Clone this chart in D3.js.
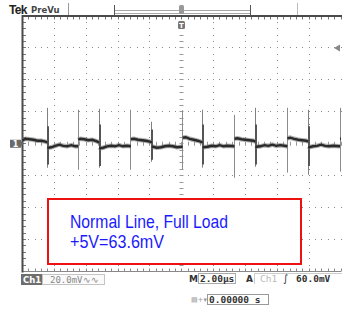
<!DOCTYPE html>
<html>
<head>
<meta charset="utf-8">
<script src="https://cdn.jsdelivr.net/npm/d3@7"></script>
<style>
  body { margin: 0; background: #fff; }
  svg { display: block; }
</style>
</head>
<body>
<svg id="scope" width="342" height="310"></svg>
<script>
// screen: 2.00 us/div x 10 div, 20.0 mV/div x 8 div
const timeDomain = [0, 20]
const voltDomain = [-80, 80]

// trace, [time us, mV], split where the switch edges jump
const trace = [
  [[0, 2.2], [0.19, 3.1], [0.44, 2.8], [0.69, 2.5], [0.94, 1.9], [1.19, 1.9], [1.44, 1.3], [1.56, 0.9]],
  [[1.56, -2.2], [1.63, -2.5], [1.81, -2.2], [2.06, -1.3], [2.31, -0.6], [2.56, -1.3], [2.81, -1.6], [3.06, -0.9], [3.31, -1.6], [3.5, -1.6]],
  [[3.5, 2.5], [3.63, 3.1], [3.88, 2.8], [4.13, 2.2], [4.38, 2.5], [4.63, 1.6], [4.81, 0.9]],
  [[4.81, -2.5], [4.88, -2.8], [5.06, -2.5], [5.31, -1.6], [5.56, -1.3], [5.81, -1.6], [6.06, -0.9], [6.31, -1.6], [6.56, -1.3], [6.81, -1.6]],
  [[6.81, 2.8], [7.0, 3.1], [7.25, 2.5], [7.5, 2.2], [7.75, 1.9], [8.0, 1.3], [8.13, 0.9]],
  [[8.13, -1.6], [8.19, -1.9], [8.44, -2.5], [8.69, -2.2], [8.94, -1.6], [9.19, -1.3], [9.44, -1.6], [9.69, -2.2], [10.06, -1.9]],
  [[10.06, 3.8], [10.25, 4.1], [10.5, 3.1], [10.75, 2.5], [11.0, 1.9], [11.31, 0.9]],
  [[11.31, -1.9], [11.38, -2.2], [11.63, -1.9], [11.88, -1.3], [12.13, -1.6], [12.38, -0.9], [12.63, -1.6], [12.88, -1.3], [13.31, -1.6]],
  [[13.31, 3.1], [13.5, 3.4], [13.75, 2.8], [14.0, 2.5], [14.25, 2.2], [14.5, 1.9], [14.63, 1.3]],
  [[14.63, -1.6], [14.69, -1.9], [14.94, -1.6], [15.19, -0.9], [15.44, -1.3], [15.69, -0.6], [15.94, -1.3], [16.19, -0.9], [16.63, -1.6]],
  [[16.63, 3.4], [16.81, 3.8], [17.06, 3.1], [17.31, 2.5], [17.56, 2.2], [17.81, 1.9], [17.94, 1.3]],
  [[17.94, -1.9], [18.0, -2.2], [18.25, -1.6], [18.5, -1.3], [18.75, -0.6], [19.0, -1.3], [19.25, -1.6], [19.5, -1.3], [19.88, -1.6], [19.94, -1.6]],
  [[19.94, 3.1], [20, 3.1]]
]

// turn-off spikes (with ringing)
const fallTimes = [1.56, 4.81, 8.13, 11.31, 14.63, 17.94]
const fallTop = [22.5, 21.9, 13.8, 21.3, 22.5, 21.3]
const fallBottom = [-15, -15, -11.3, -15, -14.4, -19.4]
const fallCoreTop = [11, 12, 9, 12, 12, 11]
const fallCoreBottom = [-13, -14, -10, -13, -13, -14]

// turn-on edges
const riseTimes = [3.5, 6.81, 10.06, 13.31, 16.63, 19.94]
const riseTop = [21.3, 21.3, 21, 18.1, 22.5, 22.5]
const riseBottom = [-16.3, -16.3, -16, -21.3, -18.1, -17.5]

const triggerTime = 10
const triggerLevel = 60

const chLabel = 'Ch1'
const voltsLabel = '20.0mV'
const timeLabel = '2.00\u00b5s'
const trigLabel = '60.0mV'
const posLabel = '0.00000 s'
const noteLines = ['Normal Line, Full Load', '+5V=63.6mV']

const svg = d3.select('#scope')
const x = d3.scaleLinear().domain(timeDomain).range([22.5, 341])
const y = d3.scaleLinear().domain(voltDomain).range([271.5, 16])
const px = v => Math.floor(x(v)) + 0.5

const xMajor = d3.range(0, 20.001, 2)
const yMajor = d3.range(-80, 80.001, 20)
const xMinor = d3.range(0, 20.001, 0.4)
const yMinor = d3.range(-80, 80.001, 4)

// ---- graticule
const grid = svg.append('g')
const vDots = d3.cross(xMajor.filter(d => d > 0 && d < 20), yMinor)
const hDots = d3.cross(xMinor, yMajor.filter(d => d > -80 && d < 80))
grid.selectAll('rect.dot')
  .data(vDots.concat(hDots))
  .enter().append('rect')
  .attr('x', d => Math.floor(x(d[0])))
  .attr('y', d => Math.floor(y(d[1])))
  .attr('width', 1).attr('height', 1)
  .attr('fill', '#8a8a8a')

// center cross ticks
grid.selectAll('line.cv')
  .data(yMinor)
  .enter().append('line')
  .attr('x1', px(triggerTime) - 2).attr('x2', px(triggerTime) + 2)
  .attr('y1', d => Math.floor(y(d)) + 0.5).attr('y2', d => Math.floor(y(d)) + 0.5)
  .attr('stroke', '#999').attr('stroke-width', 1)
grid.selectAll('line.ch')
  .data(xMinor)
  .enter().append('line')
  .attr('y1', y(0) - 2).attr('y2', y(0) + 2)
  .attr('x1', d => px(d)).attr('x2', d => px(d))
  .attr('stroke', '#999').attr('stroke-width', 1)

// border ticks
grid.selectAll('line.tt')
  .data(xMinor)
  .enter().append('line')
  .attr('x1', d => px(d)).attr('x2', d => px(d))
  .attr('y1', y(80)).attr('y2', y(80) + 3.5)
  .attr('stroke', '#777')
grid.selectAll('line.bt')
  .data(xMinor)
  .enter().append('line')
  .attr('x1', d => px(d)).attr('x2', d => px(d))
  .attr('y1', y(-80) - 3).attr('y2', y(-80))
  .attr('stroke', '#888')
grid.selectAll('line.lt')
  .data(yMinor)
  .enter().append('line')
  .attr('x1', x(0)).attr('x2', x(0) + 3.5)
  .attr('y1', d => Math.floor(y(d)) + 0.5).attr('y2', d => Math.floor(y(d)) + 0.5)
  .attr('stroke', '#777')

grid.append('line')
  .attr('x1', x(0)).attr('x2', x(20)).attr('y1', 271.5).attr('y2', 271.5)
  .attr('stroke', '#888').attr('stroke-width', 1)
grid.append('line')
  .attr('x1', x(0)).attr('x2', 342).attr('y1', y(80)).attr('y2', y(80))
  .attr('stroke', '#4a4a4a').attr('stroke-width', 2)
grid.append('line')
  .attr('x1', x(0)).attr('x2', x(0)).attr('y1', y(80) - 1).attr('y2', y(-80) + 1)
  .attr('stroke', '#4a4a4a').attr('stroke-width', 2)

// ---- spikes
const spikes = svg.append('g')
spikes.selectAll('line.rise')
  .data(riseTimes)
  .enter().append('line')
  .attr('x1', d => px(d)).attr('x2', d => px(d))
  .attr('y1', (d, i) => y(riseTop[i])).attr('y2', (d, i) => y(riseBottom[i]))
  .attr('stroke', '#8c8c8c').attr('stroke-width', 1)
spikes.selectAll('line.fall')
  .data(fallTimes)
  .enter().append('line')
  .attr('x1', d => px(d)).attr('x2', d => px(d))
  .attr('y1', (d, i) => y(fallTop[i])).attr('y2', (d, i) => y(fallBottom[i]))
  .attr('stroke', '#808080').attr('stroke-width', 1)
spikes.selectAll('line.core')
  .data(fallTimes)
  .enter().append('line')
  .attr('x1', d => px(d) + 0.5).attr('x2', d => px(d) + 0.5)
  .attr('y1', (d, i) => y(fallCoreTop[i])).attr('y2', (d, i) => y(fallCoreBottom[i]))
  .attr('stroke', '#555').attr('stroke-width', 2)

// ---- trace
const line = d3.line().x(d => x(d[0])).y(d => y(d[1]))
const tr = svg.append('g')
tr.selectAll('path.halo')
  .data(trace)
  .enter().append('path')
  .attr('d', line)
  .attr('fill', 'none')
  .attr('stroke', '#7c7c7c').attr('stroke-width', 4.5)
  .attr('stroke-opacity', 0.6)
tr.selectAll('path.core')
  .data(trace)
  .enter().append('path')
  .attr('d', line)
  .attr('fill', 'none')
  .attr('stroke', '#2a2a2a').attr('stroke-width', 2.4)

// ---- markers
const gnd = svg.append('g').attr('transform', 'translate(0,' + y(0) + ')')
gnd.append('rect').attr('x', 10).attr('y', -4).attr('width', 11).attr('height', 8)
  .attr('fill', '#6a6a6a')
gnd.append('path').attr('d', 'M21,-3L23.5,0L21,3Z').attr('fill', '#6a6a6a')
gnd.append('text').attr('x', 15.5).attr('y', 3).attr('text-anchor', 'middle')
  .attr('font-family', 'DejaVu Sans').attr('font-weight', 'bold').attr('font-size', 8)
  .attr('fill', '#fff').text('1')

svg.append('path')
  .attr('d', 'M' + 334 + ',' + y(triggerLevel) + 'l6,-3.5v7z')
  .attr('fill', '#888')

const tx = px(triggerTime)
svg.append('rect').attr('x', tx - 3.5).attr('y', 21).attr('width', 7).attr('height', 8)
  .attr('rx', 1.5).attr('fill', '#777')
svg.append('text').attr('x', tx).attr('y', 28).attr('text-anchor', 'middle')
  .attr('font-family', 'DejaVu Sans').attr('font-weight', 'bold').attr('font-size', 7)
  .attr('fill', '#fff').text('T')

// ---- header
const head = svg.append('g')
head.append('text').attr('x', 9).attr('y', 13.5)
  .attr('font-family', 'Liberation Sans').attr('font-weight', 'bold').attr('font-size', 12)
  .attr('letter-spacing', -0.7).attr('fill', '#222').text('Tek')
head.append('text').attr('x', 31).attr('y', 13)
  .attr('font-family', 'DejaVu Sans').attr('font-weight', 'bold').attr('font-size', 8.5)
  .attr('fill', '#444').text('PreVu')
head.append('line').attr('x1', 68.5).attr('x2', 68.5).attr('y1', 3).attr('y2', 15)
  .attr('stroke', '#999')
head.append('line').attr('x1', 297.5).attr('x2', 297.5).attr('y1', 3).attr('y2', 15)
  .attr('stroke', '#bbb')
head.selectAll('line.rec')
  .data([10.5, 13.5])
  .enter().append('line')
  .attr('x1', 114).attr('x2', 250).attr('y1', d => d).attr('y2', d => d)
  .attr('stroke', '#a8a8a8')
head.selectAll('line.brk')
  .data([114.5, 250.5])
  .enter().append('line')
  .attr('x1', d => d).attr('x2', d => d).attr('y1', 5).attr('y2', 15)
  .attr('stroke', '#555')
head.append('rect').attr('x', tx - 2.5).attr('y', 5).attr('width', 5).attr('height', 9)
  .attr('rx', 1.5).attr('fill', '#999')

// ---- note box
const note = svg.append('g')
note.append('rect').attr('x', 48).attr('y', 199).attr('width', 253).attr('height', 65)
  .attr('fill', '#fff').attr('stroke', '#ee1111').attr('stroke-width', 2)
note.selectAll('text')
  .data(noteLines)
  .enter().append('text')
  .attr('x', 70)
  .attr('y', (d, i) => 228 + i * 20)
  .attr('font-family', 'Liberation Sans').attr('font-size', 19)
  .attr('textLength', (d, i) => [158, 94][i]).attr('lengthAdjust', 'spacingAndGlyphs')
  .attr('fill', '#1a1aff')
  .text(d => d)

// ---- status bar
const st = svg.append('g').attr('font-family', 'DejaVu Sans Mono')
st.append('rect').attr('x', 42.5).attr('y', 274.5).attr('width', 62).attr('height', 10)
  .attr('fill', '#fafafa').attr('stroke', '#c4c4c4')
st.append('rect').attr('x', 21).attr('y', 274).attr('width', 21).attr('height', 11)
  .attr('fill', '#6e6e6e')
st.append('text').attr('x', 23).attr('y', 283)
  .attr('font-family', 'DejaVu Sans').attr('font-weight', 'bold').attr('font-size', 8.5)
  .attr('fill', '#fff').text(chLabel)
st.append('text').attr('x', 50).attr('y', 283).attr('font-size', 9)
  .attr('fill', '#888').text(voltsLabel + '\u223f\u223f')

st.append('text').attr('x', 189).attr('y', 282)
  .attr('font-family', 'DejaVu Sans').attr('font-weight', 'bold').attr('font-size', 9)
  .attr('fill', '#333').text('M')
st.append('rect').attr('x', 198.5).attr('y', 273.5).attr('width', 37).attr('height', 10)
  .attr('fill', 'none').attr('stroke', '#aaa')
st.append('text').attr('x', 200).attr('y', 282).attr('font-size', 9.5).attr('font-weight', 'bold')
  .attr('fill', '#333').text(timeLabel)

st.append('text').attr('x', 246).attr('y', 282)
  .attr('font-family', 'DejaVu Sans').attr('font-weight', 'bold').attr('font-size', 9)
  .attr('fill', '#333').text('A')
st.append('path').attr('d', 'M254.5,284V273.5H342').attr('fill', 'none').attr('stroke', '#ccc')
st.append('text').attr('x', 260).attr('y', 282).attr('font-size', 9.5)
  .attr('fill', '#bbb').text(chLabel)
st.append('text').attr('x', 283).attr('y', 282)
  .attr('font-family', 'DejaVu Sans').attr('font-size', 10).attr('font-style', 'italic')
  .attr('fill', '#333').text('\u222b')
st.append('text').attr('x', 296).attr('y', 282).attr('font-size', 9.5).attr('font-weight', 'bold')
  .attr('fill', '#333').text(trigLabel)

st.append('text').attr('x', 191).attr('y', 302)
  .attr('font-family', 'DejaVu Sans').attr('font-size', 7)
  .attr('fill', '#999').text('\u25a4+\u25be')
st.append('rect').attr('x', 207.5).attr('y', 294.5).attr('width', 61).attr('height', 10)
  .attr('fill', 'none').attr('stroke', '#999')
st.append('text').attr('x', 209).attr('y', 303).attr('font-size', 9.5).attr('font-weight', 'bold')
  .attr('fill', '#333').text(posLabel)
</script>
</body>
</html>
